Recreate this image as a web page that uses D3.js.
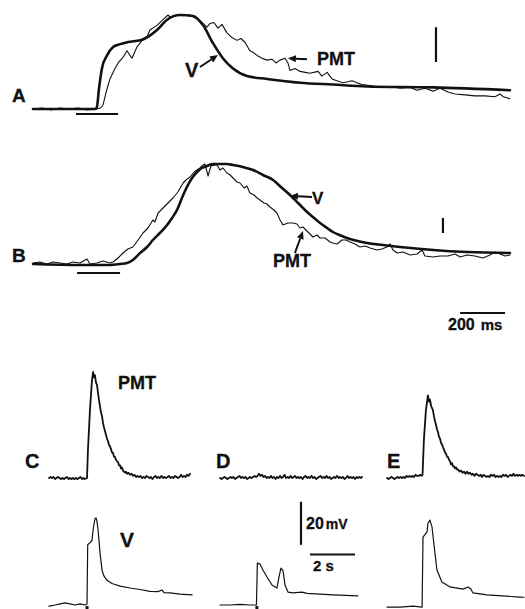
<!DOCTYPE html>
<html>
<head>
<meta charset="utf-8">
<script src="https://cdn.jsdelivr.net/npm/d3@7"></script>
<style>
  html, body { margin: 0; padding: 0; background: #fff; }
  text { font-family: "Liberation Sans", Arial, Helvetica, sans-serif; font-weight: bold; fill: #111; stroke: #111; stroke-width: 0.3px; }
</style>
</head>
<body>
<svg id="fig" width="525" height="609"></svg>
<script>
// ---------- DATA (time, amplitude) ----------
// Panel A: time in ms, amplitude in % of peak
const vA = [[0,0],[276,0],[284,2],[293,21],[307,44],[329,57],[356,66],[387,69],[418,71],[489,74],[551,84],[596,95],[653,100],[711,99],[756,89],[800,70],[844,54],[889,43],[951,35],[1040,32],[1187,28],[1333,26],[1484,24],[1778,23],[2120,20]];
const pmtA = [[0,0],[40,1],[80,-1],[120,1],[160,0],[200,1],[240,-1],[280,0],[300,1],[311,4],[324,17],[342,32],[360,41],[378,49],[400,55],[418,62],[431,57],[440,54],[462,66],[476,70],[489,75],[507,77],[520,84],[551,89],[578,95],[600,100],[613,97],[630,99],[653,100],[698,100],[720,97],[742,94],[760,90],[773,87],[787,91],[804,92],[822,86],[840,90],[862,81],[884,76],[907,73],[924,75],[942,71],[964,62],[980,60],[996,57],[1018,54],[1040,52],[1062,53],[1080,49],[1098,52],[1120,54],[1133,49],[1142,41],[1164,43],[1187,40],[1210,39],[1231,38],[1267,40],[1284,35],[1307,39],[1329,32],[1351,30],[1378,28],[1400,29],[1418,30],[1440,28],[1462,26],[1498,25],[1542,23],[1587,24],[1631,22],[1676,23],[1707,20],[1742,22],[1778,19],[1809,22],[1844,18],[1876,16],[1920,15],[1964,14],[2009,14],[2053,13],[2076,16],[2090,13],[2120,11]];
// Panel B
const vB = [[0,0],[209,-1],[342,-1],[387,0],[418,1],[444,4],[476,11],[507,17],[533,24],[564,31],[596,39],[618,46],[640,54],[662,66],[684,77],[707,86],[729,92],[751,96],[773,98],[800,100],[831,100],[862,100],[889,99],[933,97],[978,94],[1022,89],[1067,84],[1107,76],[1142,69],[1178,61],[1218,52],[1249,46],[1276,41],[1307,36],[1333,32],[1373,28],[1409,25],[1484,21],[1556,19],[1631,17],[1778,14],[1929,12],[2120,11]];
const pmtB = [[0,1],[31,2],[62,0],[89,2],[120,1],[151,0],[178,2],[209,1],[240,5],[253,0],[284,1],[311,3],[342,1],[356,2],[378,6],[400,11],[422,15],[444,17],[467,24],[489,31],[511,36],[533,44],[542,42],[556,51],[578,56],[600,61],[622,66],[644,72],[667,81],[680,84],[698,87],[716,92],[729,94],[742,96],[756,99],[764,100],[778,88],[791,98],[809,99],[818,99],[831,94],[844,96],[862,91],[876,89],[889,86],[907,82],[920,81],[938,76],[951,78],[964,71],[982,69],[996,66],[1009,64],[1027,61],[1040,60],[1053,57],[1071,54],[1084,51],[1098,44],[1111,39],[1133,41],[1156,41],[1173,40],[1187,36],[1200,37],[1222,32],[1244,27],[1262,29],[1276,26],[1298,26],[1320,22],[1333,21],[1351,20],[1373,24],[1391,24],[1409,22],[1431,20],[1453,17],[1476,18],[1498,16],[1529,14],[1551,15],[1573,17],[1587,20],[1600,14],[1618,11],[1644,12],[1676,9],[1707,10],[1729,14],[1742,8],[1778,7],[1809,8],[1844,8],[1876,10],[1898,7],[1929,9],[1964,8],[2000,6],[2031,9],[2053,12],[2076,10],[2098,8],[2120,9]];
const stimA = [191, 378];   // ms
const stimB = [196, 387];
// Panels C, D, E: time in s; PMT in % of C peak; V in mV above rest
const pmtC = [[0,0],[0.07,1],[0.13,0],[0.2,1],[0.27,-1],[0.33,0],[0.4,1],[0.47,0],[0.53,-1],[0.6,0],[0.67,-1],[0.73,0],[0.8,1],[0.87,-1],[0.93,0],[1.0,-1],[1.07,0],[1.13,-1],[1.2,0],[1.27,-1],[1.33,0],[1.4,1],[1.47,-1],[1.53,0],[1.6,-1],[1.69,0],[1.73,26],[1.82,64],[1.91,92],[1.96,100],[2.0,95],[2.04,97],[2.09,90],[2.13,88],[2.18,80],[2.22,74],[2.27,67],[2.31,62],[2.36,58],[2.4,52],[2.44,48],[2.49,44],[2.53,41],[2.58,37],[2.62,35],[2.67,31],[2.71,30],[2.76,27],[2.8,24],[2.84,24],[2.89,20],[2.93,20],[2.98,17],[3.02,16],[3.07,15],[3.11,12],[3.16,12],[3.2,9],[3.24,10],[3.29,7],[3.33,6],[3.38,5],[3.42,6],[3.47,4],[3.53,5],[3.6,3],[3.67,4],[3.73,2],[3.8,3],[3.87,1],[3.93,2],[4.0,1],[4.07,2],[4.13,0],[4.2,1],[4.27,0],[4.33,2],[4.4,1],[4.47,0],[4.53,1],[4.6,-1],[4.67,1],[4.73,2],[4.8,0],[4.87,1],[4.93,0],[5.0,2],[5.07,0],[5.13,1],[5.2,0],[5.27,1],[5.33,2],[5.4,0],[5.47,1],[5.53,0],[5.6,2],[5.67,1],[5.73,0],[5.8,1],[5.87,3],[5.93,1],[6.0,2],[6.07,1],[6.13,3],[6.2,2],[6.27,4]];
const pmtD = [[0,0],[0.07,-1],[0.13,0],[0.2,1],[0.27,0],[0.33,-1],[0.4,0],[0.47,1],[0.53,0],[0.6,1],[0.67,-1],[0.73,0],[0.8,1],[0.87,2],[0.93,0],[1.0,1],[1.07,0],[1.13,1],[1.2,-1],[1.27,0],[1.33,1],[1.4,0],[1.47,1],[1.53,2],[1.6,1],[1.67,2],[1.73,4],[1.8,2],[1.87,3],[1.93,1],[2.0,2],[2.07,0],[2.13,1],[2.2,0],[2.27,2],[2.33,0],[2.4,1],[2.47,-1],[2.53,1],[2.6,0],[2.67,2],[2.73,0],[2.8,1],[2.87,3],[2.93,0],[3.0,1],[3.07,0],[3.13,2],[3.2,0],[3.27,1],[3.33,2],[3.4,0],[3.47,1],[3.53,0],[3.6,1],[3.67,-1],[3.73,1],[3.8,2],[3.87,0],[3.93,1],[4.0,0],[4.07,2],[4.13,0],[4.2,1],[4.27,-1],[4.33,0],[4.4,1],[4.47,2],[4.53,0],[4.6,1],[4.67,0],[4.73,2],[4.8,0],[4.87,1],[4.93,-1],[5.0,0],[5.07,1],[5.13,0],[5.2,2],[5.27,0],[5.33,1],[5.4,0],[5.47,1],[5.53,-1],[5.6,0],[5.67,2],[5.73,0],[5.8,1],[5.87,0],[5.93,1],[6.0,-1],[6.07,1],[6.13,0],[6.2,1],[6.27,0],[6.31,1]];
const pmtE = [[0,0],[0.07,-1],[0.13,0],[0.2,1],[0.27,0],[0.33,-1],[0.4,0],[0.47,1],[0.53,0],[0.6,1],[0.67,0],[0.73,1],[0.8,0],[0.87,2],[0.93,1],[1.0,2],[1.07,1],[1.13,2],[1.2,1],[1.27,3],[1.33,2],[1.4,2],[1.47,3],[1.53,2],[1.58,3],[1.64,36],[1.73,64],[1.82,78],[1.87,72],[1.91,74],[1.96,68],[2.04,64],[2.09,58],[2.13,54],[2.18,50],[2.22,46],[2.27,43],[2.31,39],[2.36,37],[2.4,33],[2.44,32],[2.49,29],[2.53,27],[2.58,24],[2.62,23],[2.67,20],[2.71,20],[2.76,17],[2.8,16],[2.84,13],[2.89,14],[2.93,11],[2.98,11],[3.02,9],[3.07,10],[3.11,8],[3.16,8],[3.22,6],[3.29,7],[3.36,5],[3.42,6],[3.49,4],[3.56,6],[3.62,4],[3.69,5],[3.76,3],[3.82,4],[3.89,2],[3.96,4],[4.02,3],[4.09,2],[4.16,3],[4.22,1],[4.29,3],[4.36,2],[4.42,1],[4.49,2],[4.56,1],[4.62,3],[4.69,2],[4.76,3],[4.82,1],[4.89,2],[4.96,1],[5.02,2],[5.09,1],[5.16,3],[5.22,2],[5.29,3],[5.36,1],[5.42,2],[5.49,3],[5.56,2],[5.62,4],[5.69,2],[5.76,3],[5.82,2],[5.89,3],[5.96,2],[6.02,3],[6.09,2]];
const vC = [[0,-0.5],[0.27,0],[0.49,0.5],[0.71,1],[0.93,0.5],[1.16,0],[1.38,0.5],[1.6,0],[1.69,0.5],[1.72,28],[1.82,29],[1.91,30],[1.96,35],[2.04,40],[2.09,40.5],[2.13,39],[2.18,35],[2.27,24],[2.36,16],[2.44,13.5],[2.58,11.5],[2.8,10],[3.16,8.8],[3.6,7.9],[4.04,7.2],[4.49,6.3],[4.84,6.2],[5.02,7],[5.11,5.8],[5.38,5.6],[5.82,5.1],[6.36,4.7]];
const vD = [[0,0],[0.44,0],[0.89,0.3],[1.33,0],[1.62,0],[1.66,19.5],[1.78,19],[1.91,16.3],[2.09,13],[2.31,9.3],[2.53,7.9],[2.62,13],[2.71,17.2],[2.8,16],[2.89,9.3],[3.02,6],[3.24,5.6],[3.64,6],[3.87,5.4],[5.02,4.7],[6.13,4.2]];
const vE = [[0,-1],[0.58,-1],[1.16,-0.5],[1.56,-1],[1.6,31.6],[1.78,34],[1.82,38],[1.91,39.5],[2.0,36.3],[2.13,24.2],[2.22,16.3],[2.44,10.7],[2.8,8.4],[3.38,7.4],[3.6,8.4],[3.73,7.4],[3.82,5.6],[4.44,4.7],[5.91,3.7],[6.09,3.6]];
const stimOnset = [1.69, 1.64];   // C, D (s)
// Labels
const panelLabels = ["A", "B", "C", "D", "E"];
const scaleLabels = ["200", "ms", "20", "mV", "2 s"];

// ---------- SCALES ----------
const svg = d3.select("#fig");
svg.append("rect").attr("width", 525).attr("height", 609).attr("fill", "#fff");

const xAB = d3.scaleLinear().domain([0, 2120]).range([33, 510]);
const yA = d3.scaleLinear().domain([0, 100]).range([109, 15]);
const yB = d3.scaleLinear().domain([0, 100]).range([264, 164]);
const xSub = off => d3.scaleLinear().domain([0, 6.4]).range([off, off + 144]);
const xC = xSub(49), xD = xSub(220), xE = xSub(387);
const yP = d3.scaleLinear().domain([0, 100]).range([478, 372]);
const yV = d3.scaleLinear().domain([0, 40]).range([605, 519]);

const ink = "#111";
function trace(data, xs, ys, w, curve) {
  const line = d3.line().x(d => xs(d[0])).y(d => ys(d[1])).curve(curve || d3.curveLinear);
  svg.append("path").attr("d", line(data)).attr("fill", "none")
    .attr("stroke", ink).attr("stroke-width", w)
    .attr("stroke-linejoin", "round").attr("stroke-linecap", "round");
}
function seg(x1, y1, x2, y2, w) {
  svg.append("line").attr("x1", x1).attr("y1", y1).attr("x2", x2).attr("y2", y2)
    .attr("stroke", ink).attr("stroke-width", w);
}
function arrow(x1, y1, x2, y2) {
  const a = Math.atan2(y2 - y1, x2 - x1), L = 8, W = 3.5;
  const bx = x2 - L * Math.cos(a), by = y2 - L * Math.sin(a);
  seg(x1, y1, bx, by, 2);
  const px = -Math.sin(a) * W, py = Math.cos(a) * W;
  svg.append("path").attr("d", `M${x2},${y2}L${bx + px},${by + py}L${bx - px},${by - py}Z`).attr("fill", ink);
}
function label(t, x, y, size) {
  return svg.append("text").attr("x", x).attr("y", y).attr("font-size", size).text(t);
}

// ---------- PANEL A ----------
trace(pmtA, xAB, yA, 1.1);
trace(vA, xAB, yA, 2.6, d3.curveMonotoneX);
seg(xAB(stimA[0]), yA(-5.3), xAB(stimA[1]), yA(-5.3), 2.2);
seg(xAB(1791), yA(50), xAB(1791), yA(87), 2.2);
arrow(xAB(742), yA(44.7), xAB(822), yA(57.4));
arrow(xAB(1218), yA(53), xAB(1133), yA(54));
label(panelLabels[0], 12, 102, 19);
label("V", 185, 77, 20);
label("PMT", 317, 65, 18);

// ---------- PANEL B ----------
trace(pmtB, xAB, yB, 1.1);
trace(vB, xAB, yB, 2.6, d3.curveMonotoneX);
seg(xAB(stimB[0]), yB(-9), xAB(stimB[1]), yB(-9), 2.2);
seg(xAB(1822), yB(31), xAB(1822), yB(46), 2.2);
arrow(xAB(1240), yB(67), xAB(1142), yB(68));
arrow(xAB(1164), yB(11), xAB(1200), yB(33));
label(panelLabels[1], 12, 262, 19);
label("V", 312, 204, 17);
label("PMT", 273, 267, 18);

// 200 ms scale
seg(xAB(1898), 313, xAB(2098), 313, 2.2);
const t200 = svg.append("text").attr("x", 448).attr("y", 330);
t200.append("tspan").attr("font-size", 16).text(scaleLabels[0]);
t200.append("tspan").attr("font-size", 15).attr("dx", 6).text(scaleLabels[1]);

// ---------- PANELS C, D, E ----------
trace(pmtC, xC, yP, 1.8);
trace(pmtD, xD, yP, 1.8);
trace(pmtE, xE, yP, 1.8);
trace(vC, xC, yV, 1.2);
trace(vD, xD, yV, 1.2);
trace(vE, xE, yV, 1.2);
[[xC, stimOnset[0]], [xD, stimOnset[1]]].forEach(([xs, t]) => {
  svg.append("rect").attr("x", xs(t) - 1.5).attr("y", yV(-0.5)).attr("width", 3).attr("height", 3).attr("fill", ink);
});
label(panelLabels[2], 25, 468, 20);
label(panelLabels[3], 216, 468, 20);
label(panelLabels[4], 387, 468, 20);
label("PMT", 118, 389, 18);
label("V", 120, 547, 21);

// 20 mV and 2 s scale bars (D coordinates)
seg(xD(3.6), yV(28), xD(3.6), yV(48), 2.2);
const t20 = svg.append("text").attr("x", 306).attr("y", 529);
t20.append("tspan").attr("font-size", 16).text(scaleLabels[2]);
t20.append("tspan").attr("font-size", 14).attr("dx", 2).text(scaleLabels[3]);
seg(xD(4.0), yV(23.5), xD(6.0), yV(23.5), 2.2);
label(scaleLabels[4], 313, 571, 15);
</script>
</body>
</html>
